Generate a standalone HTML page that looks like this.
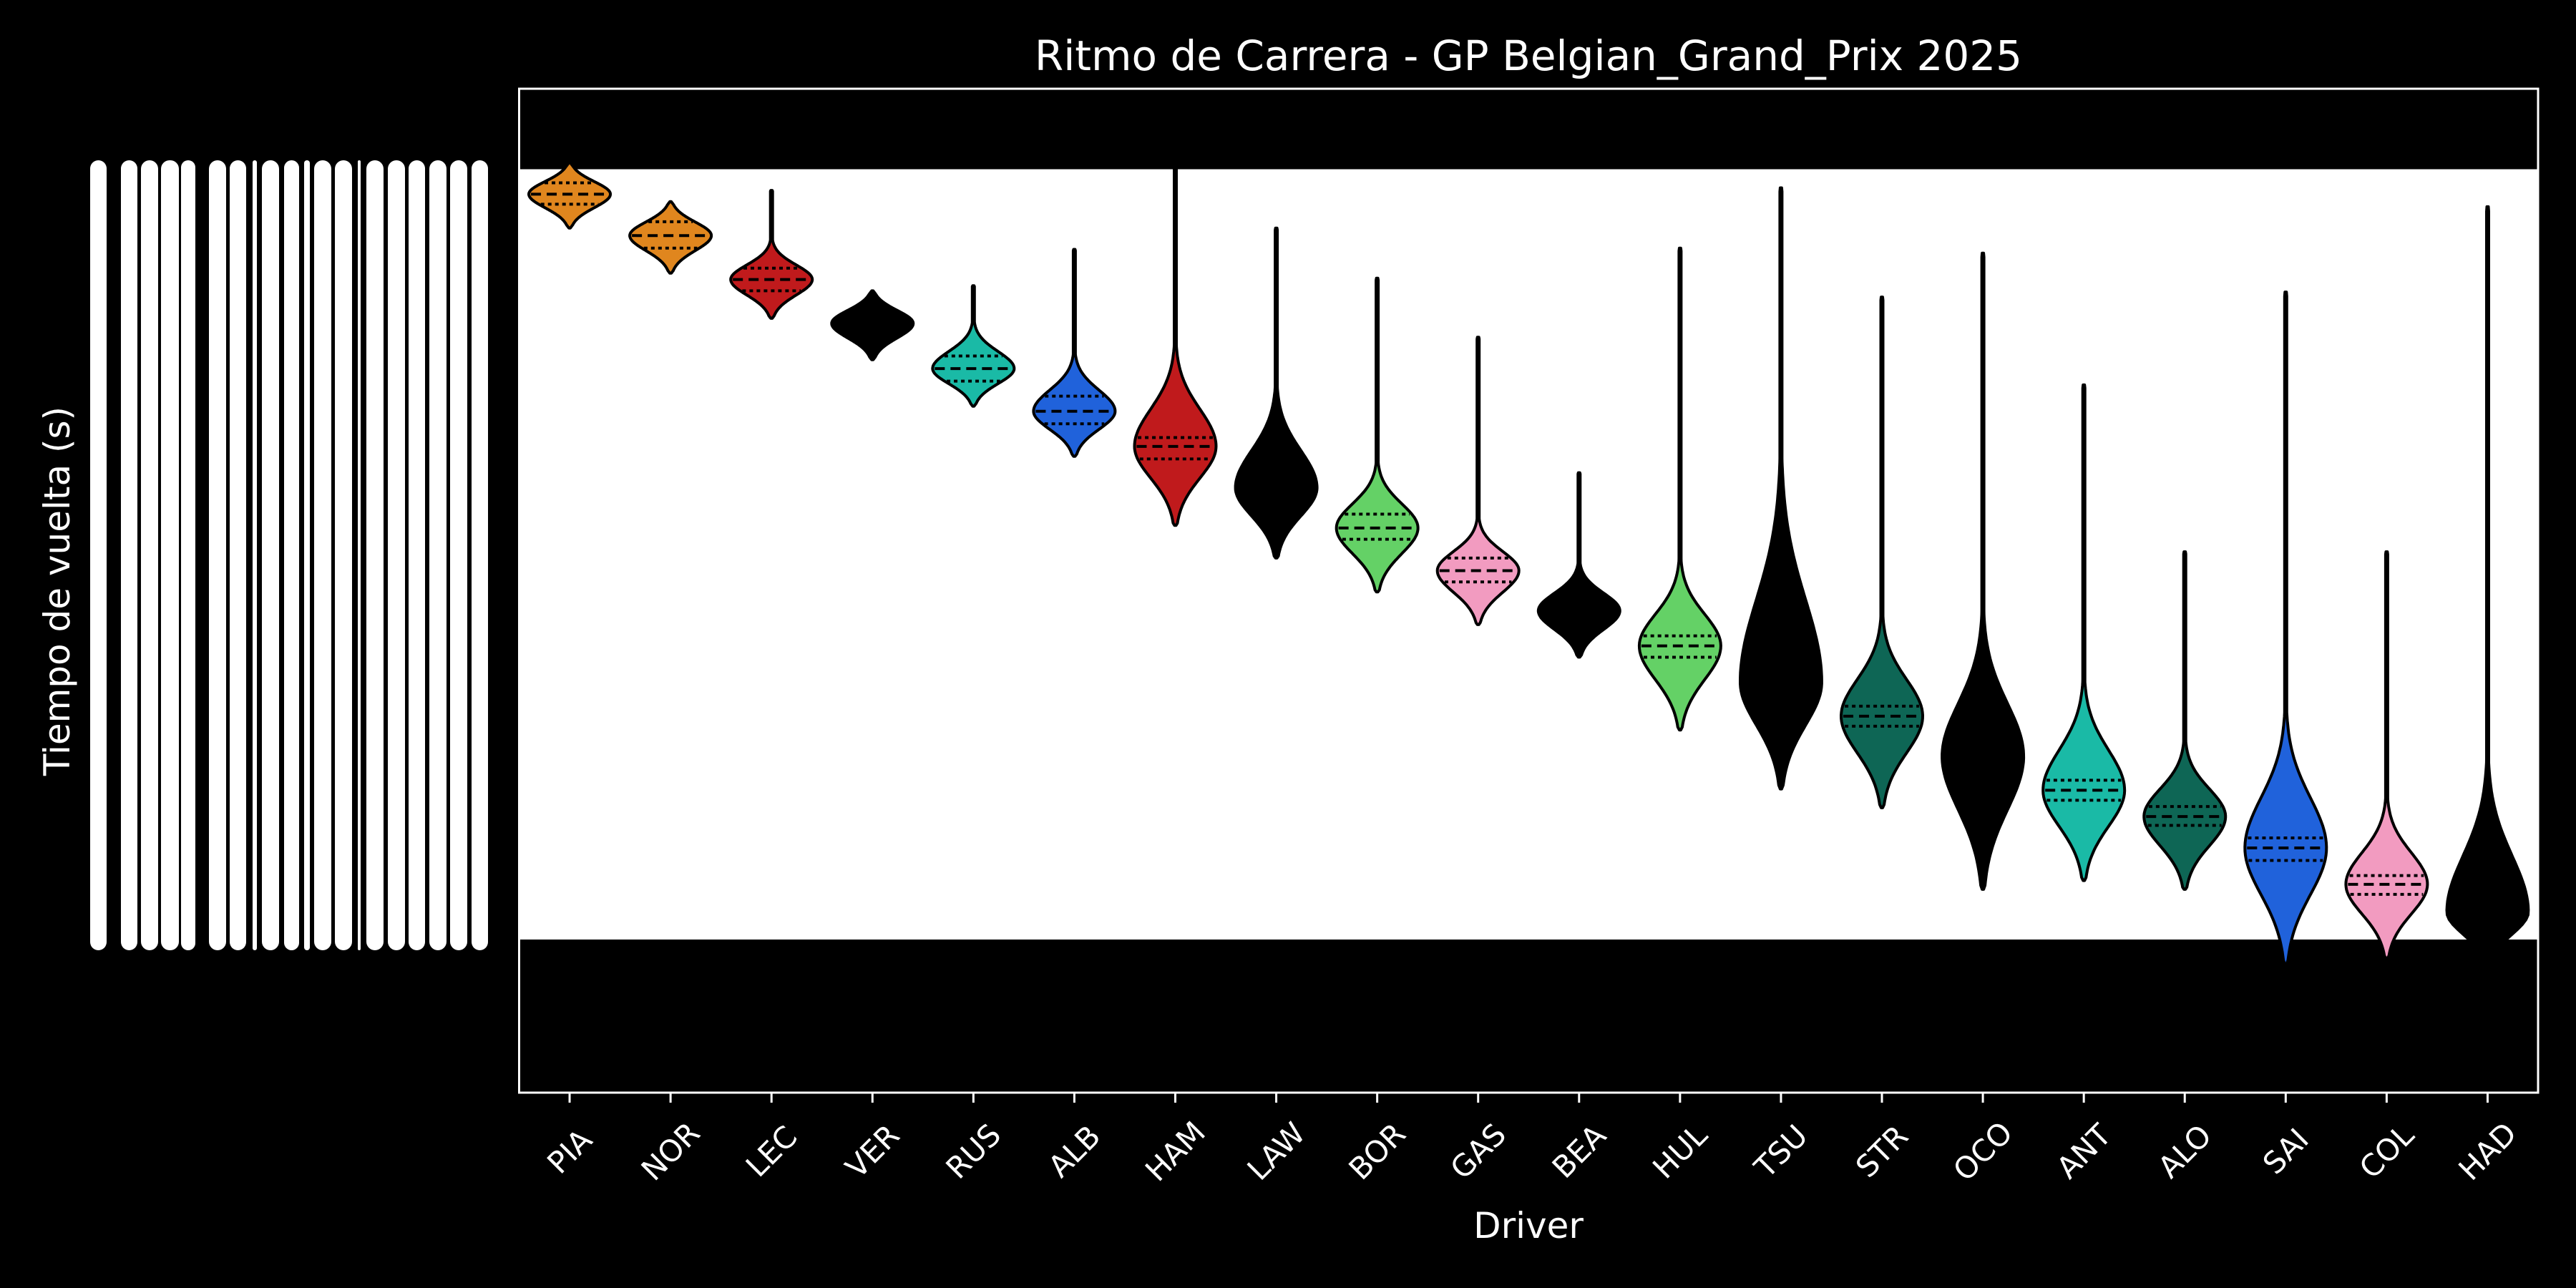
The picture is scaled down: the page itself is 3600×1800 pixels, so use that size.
<!DOCTYPE html>
<html><head><meta charset="utf-8"><style>
html,body{margin:0;padding:0;background:#000;}
svg{display:block;font-family:"DejaVu Sans","Liberation Sans",sans-serif;}
</style></head><body>
<svg id="chart" width="3600" height="1800" viewBox="0 0 3600 1800" xmlns="http://www.w3.org/2000/svg">
<rect x="0" y="0" width="3600" height="1800" fill="#000"/>
<g id="ylabels"></g>
<text x="80" y="826" fill="#fff" font-size="50" text-anchor="middle" dominant-baseline="central" transform="rotate(-90 80 826)">Tiempo de vuelta (s)</text>
<text x="2136" y="78" fill="#fff" font-size="58" text-anchor="middle" dominant-baseline="central">Ritmo de Carrera - GP Belgian_Grand_Prix 2025</text>
<rect x="725.5" y="124" width="2821.5" height="1403" fill="#000"/>
<rect x="725.5" y="236.5" width="2821.5" height="1076.5" fill="#fff"/>
<g id="violins"></g>
<rect x="725.5" y="124" width="2821.5" height="1403" fill="none" stroke="#fff" stroke-width="3"/>
<g id="xticks"></g>
<text x="2136" y="1713" fill="#fff" font-size="50" text-anchor="middle" dominant-baseline="central">Driver</text>
</svg>
<script>
const drivers = ["PIA","NOR","LEC","VER","RUS","ALB","HAM","LAW","BOR","GAS","BEA","HUL","TSU","STR","OCO","ANT","ALO","SAI","COL","HAD"];
const colors = ["#E0861E","#E0861E","#C01A1C","#000000","#1ABAA6","#2062DB","#C01A1C","#000000","#64D166","#F29BC0","#000000","#64D166","#000000","#0E6655","#000000","#1ABAA6","#0E6655","#2062DB","#F29BC0","#000000"];
const tailTop = [104.59,104.90,104.81,105.61,105.57,105.28,104.60,105.11,105.51,105.98,107.06,105.27,104.79,105.66,105.31,106.36,107.69,105.62,107.69,104.94];
const bodyTop = [104.59,104.90,105.23,105.61,105.89,106.15,106.11,106.44,107.02,107.46,107.81,107.81,107.09,108.27,108.27,108.79,109.25,109.05,109.71,109.45];
const medians = [104.84,105.17,105.52,105.87,106.23,106.57,106.85,107.18,107.50,107.84,108.16,108.44,108.73,109.00,109.32,109.59,109.80,110.05,110.34,110.56];
const q1 = [104.75,105.06,105.43,105.78,106.13,106.45,106.78,107.02,107.39,107.74,108.05,108.36,108.46,108.92,109.05,109.51,109.72,109.97,110.27,110.36];
const q3 = [104.92,105.27,105.61,105.98,106.33,106.67,106.95,107.33,107.59,107.93,108.27,108.53,108.99,109.08,109.58,109.67,109.87,110.15,110.42,110.76];
const bottoms = [105.11,105.47,105.83,106.16,106.53,106.93,107.48,107.74,108.01,108.27,108.53,109.11,109.58,109.73,110.38,110.31,110.38,110.98,110.93,111.00];
const yMin = 104.0, yMax = 112.0;

const NS = "http://www.w3.org/2000/svg";
const X0 = 725.5, X1 = 3547, Y0 = 124, Y1 = 1527;
const step = (X1 - X0) / drivers.length;
function xScale(i){ return X0 + step * (i + 0.5); }
function yScale(v){ return Y0 + (v - yMin) / (yMax - yMin) * (Y1 - Y0); }
const W = 57;

function halfWidth(i, v){
  const m = medians[i];
  let z;
  if (v < m) z = (m - v) / Math.max(0.01, (m - bodyTop[i]) / 2.5);
  else z = (v - m) / Math.max(0.01, (bottoms[i] - m) / 2.5);
  let w = W * Math.exp(-0.5 * z * z);
  if (v < bodyTop[i]) w = Math.max(w, 1.5);
  const dTop = v - tailTop[i], dBot = bottoms[i] - v;
  const end = Math.min(dTop, dBot);
  if (end < 0.03) w = Math.min(w, 1 + end / 0.03 * 4);
  return Math.max(w, 1);
}

const vg = document.getElementById('violins');
drivers.forEach((d, i) => {
  const cx = xScale(i);
  const n = 160;
  const right = [], left = [];
  for (let k = 0; k <= n; k++) {
    const v = tailTop[i] + (bottoms[i] - tailTop[i]) * k / n;
    const w = halfWidth(i, v);
    right.push((cx + w).toFixed(1) + "," + yScale(v).toFixed(1));
    left.unshift((cx - w).toFixed(1) + "," + yScale(v).toFixed(1));
  }
  const g = document.createElementNS(NS, 'g');
  
  
  const p = document.createElementNS(NS, 'path');
  p.setAttribute('d', 'M' + right.concat(left).join(' L') + ' Z');
  p.setAttribute('fill', colors[i]);
  p.setAttribute('stroke', '#000');
  p.setAttribute('stroke-width', '4');
  p.setAttribute('stroke-linejoin', 'round');
  
  
  g.appendChild(p);
  if (colors[i] !== "#000000") {
    [[q1[i], "5 5"], [medians[i], "14 8"], [q3[i], "5 5"]].forEach((q, j) => {
      const w = halfWidth(i, q[0]) - 3;
      const ln = document.createElementNS(NS, 'line');
      ln.setAttribute('x1', cx - w); ln.setAttribute('x2', cx + w);
      ln.setAttribute('y1', yScale(q[0])); ln.setAttribute('y2', yScale(q[0]));
      ln.setAttribute('stroke', '#000'); ln.setAttribute('stroke-width', '4');
      ln.setAttribute('stroke-dasharray', q[1]);
      
      
      g.appendChild(ln);
    });
  }
  vg.appendChild(g);
});

const xg = document.getElementById('xticks');
drivers.forEach((d, i) => {
  const x = xScale(i);
  const t = document.createElementNS(NS, 'line');
  t.setAttribute('x1', x); t.setAttribute('x2', x);
  t.setAttribute('y1', Y1); t.setAttribute('y2', Y1 + 14);
  t.setAttribute('stroke', '#fff'); t.setAttribute('stroke-width', '3');
  
  
  xg.appendChild(t);
  const tx = document.createElementNS(NS, 'text');
  tx.setAttribute('x', x); tx.setAttribute('y', 1609);
  tx.setAttribute('fill', '#fff'); tx.setAttribute('font-size', '42');
  tx.setAttribute('text-anchor', 'middle'); tx.setAttribute('dominant-baseline', 'central');
  tx.setAttribute('transform', 'rotate(-45 ' + x + ' 1609)');
  
  
  tx.textContent = d;
  xg.appendChild(tx);
});

const bandL = [126,169,197,225,253,292,321,353,366,397,425,439,468,500,512,542,571,600,629,659];
const bandR = [149,192,221,250,273,316,344,359,390,418,433,463,492,504,536,566,594,624,653,682];
const yg = document.getElementById('ylabels');
bandL.forEach((l, k) => {
  const r = document.createElementNS(NS, 'rect');
  const w = bandR[k] - l;
  r.setAttribute('x', l); r.setAttribute('y', 224);
  r.setAttribute('width', w); r.setAttribute('height', 1104);
  r.setAttribute('rx', Math.min(12, w / 2));
  r.setAttribute('fill', '#fff');
  
  
  yg.appendChild(r);
});
</script>
</body></html>
